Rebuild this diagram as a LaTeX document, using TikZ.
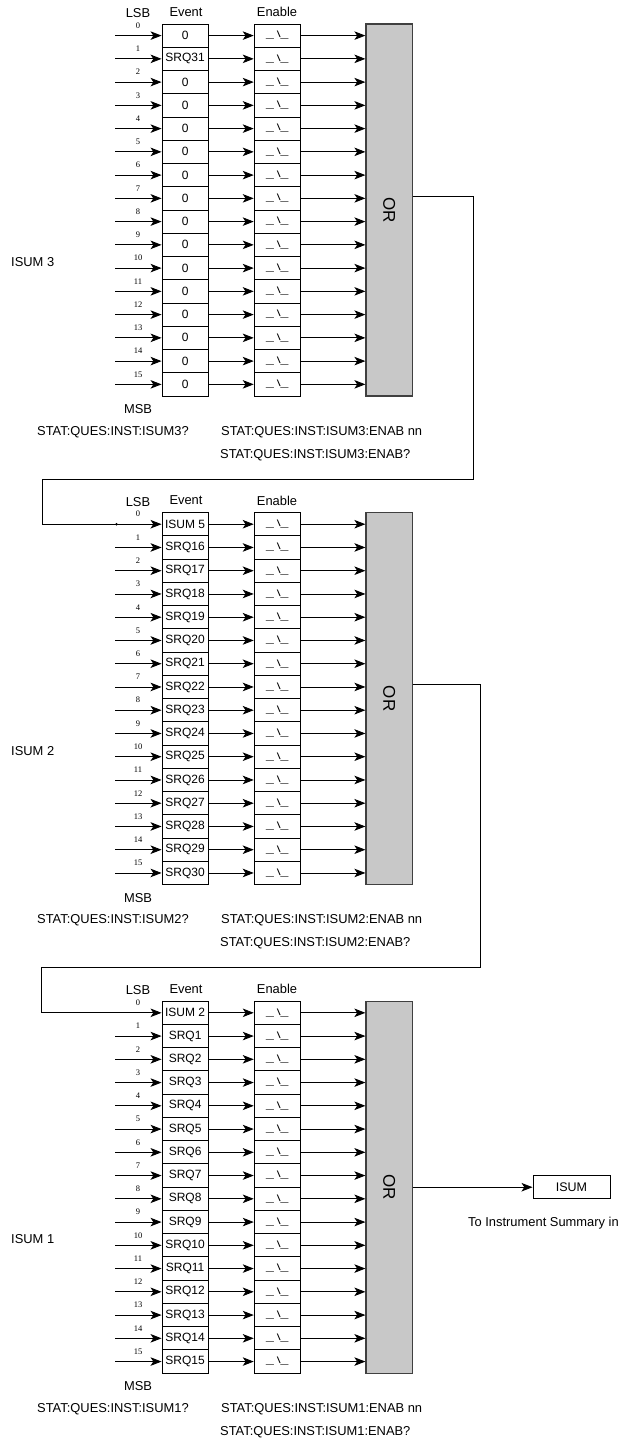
\documentclass[tikz,border=0pt]{standalone}
\usepackage{graphicx}
\usepackage{fontspec}
\setmainfont{Liberation Sans}
\newfontfamily\numfont{Liberation Serif}
\usetikzlibrary{arrows.meta}
\definecolor{orgray}{HTML}{C8C8C8}
\tikzset{
 lab/.style={font=\fontsize{12.9}{14}\selectfont, inner sep=0},
 evbox/.style={draw, line width=0.9pt, minimum width=46.3pt, minimum height=23.25pt, inner sep=0, font=\fontsize{12}{12}\selectfont},
 bitn/.style={font=\numfont\fontsize{8.5}{8.5}\selectfont, inner sep=0},
 arr/.style={line width=0.9pt, -{Stealth[length=11pt,width=8.5pt,inset=2.8pt]}},
 orbox/.style={draw=black!75, line width=1.2pt, fill=orgray, minimum width=46.3pt, minimum height=372pt, inner sep=0},
}
\newcommand\drawblock[4]{%
 \node[lab] (lsb#1) at (138,{#2+13}) {LSB};
 \node[lab] (evt#1) at (186,{#2+12}) {Event};
 \node[lab] (ena#1) at (277,{#2+12}) {Enable};
 \node[orbox] (or#1) at (389.15,{#2+210}) {};
 \node[font=\fontsize{17}{17}\selectfont, rotate=-90, inner sep=0] (ortxt#1) at (or#1.center) {OR};
 \foreach \t [count=\i from 0] in {#4} {
   \node[evbox] (ev#1r\i) at (185.15,{#2+35.6+23.25*\i}) {\t};
   \node[evbox] (en#1r\i) at (277.35,{#2+35.6+23.25*\i}) {\raisebox{-3pt}{\fontsize{10}{10}\selectfont\scalebox{1.4}[0.9]{\_\hspace{2pt}\textbackslash\_}}};
   \node[bitn] (bit#1r\i) at (138,{#2+25.6+23.25*\i}) {\i};
   \coordinate (in#1r\i) at (115,{#2+35.6+23.25*\i});
   \ifnum\i=0 \ifnum#1=1 \draw[arr] (in#1r\i) -- (ev#1r\i);\fi \else \draw[arr] (in#1r\i) -- (ev#1r\i); \fi
   \draw[arr] (ev#1r\i) -- (en#1r\i);
   \draw[arr] (en#1r\i) -- (en#1r\i -| or#1.west);
 }
 \node[lab] (msb#1) at (138,{#2+409}) {MSB};
 \node[lab,anchor=west] (q#1) at (37,{#2+432}) {STAT:QUES:INST:ISUM#3?};
 \node[lab,anchor=west] (enn#1) at (221,{#2+432}) {STAT:QUES:INST:ISUM#3:ENAB nn};
 \node[lab,anchor=west] (eq#1) at (220,{#2+455}) {STAT:QUES:INST:ISUM#3:ENAB?};
 \node[lab,anchor=west] (isl#1) at (11,{#2+262}) {ISUM #3};
}
\begin{document}
\begin{tikzpicture}[x=1pt,y=-1pt]
\useasboundingbox (0,0) rectangle (623,1441);
\drawblock{1}{0}{3}{0,SRQ31,0,0,0,0,0,0,0,0,0,0,0,0,0,0}
\drawblock{2}{488.6}{2}{ISUM 5,SRQ16,SRQ17,SRQ18,SRQ19,SRQ20,SRQ21,SRQ22,SRQ23,SRQ24,SRQ25,SRQ26,SRQ27,SRQ28,SRQ29,SRQ30}
\drawblock{3}{977.2}{1}{ISUM 2,SRQ1,SRQ2,SRQ3,SRQ4,SRQ5,SRQ6,SRQ7,SRQ8,SRQ9,SRQ10,SRQ11,SRQ12,SRQ13,SRQ14,SRQ15}
% loop 1
\coordinate (k1a) at (473,479);
\coordinate (k1b) at (42.5,479);
\draw[arr] ([yshift=14pt]or1.east) -| (k1a) -- (k1b) |- (ev2r0);
\fill (in2r0) ++(1.5,0) circle (1.3pt);
% loop 2
\coordinate (k2a) at (480,967.6);
\coordinate (k2b) at (41,967.6);
\draw[arr] ([yshift=14pt]or2.east) -| (k2a) -- (k2b) |- (ev3r0);
% output
\node[draw, line width=0.9pt, minimum width=77pt, minimum height=23pt, inner sep=0, font=\fontsize{12.5}{13}\selectfont] (isum) at (571.5,1187.2) {ISUM};
\draw[arr] (or3.east) -- (isum.west);
\node[lab,anchor=west] (toinst) at (468,1223) {To Instrument Summary in};
\end{tikzpicture}
\end{document}
